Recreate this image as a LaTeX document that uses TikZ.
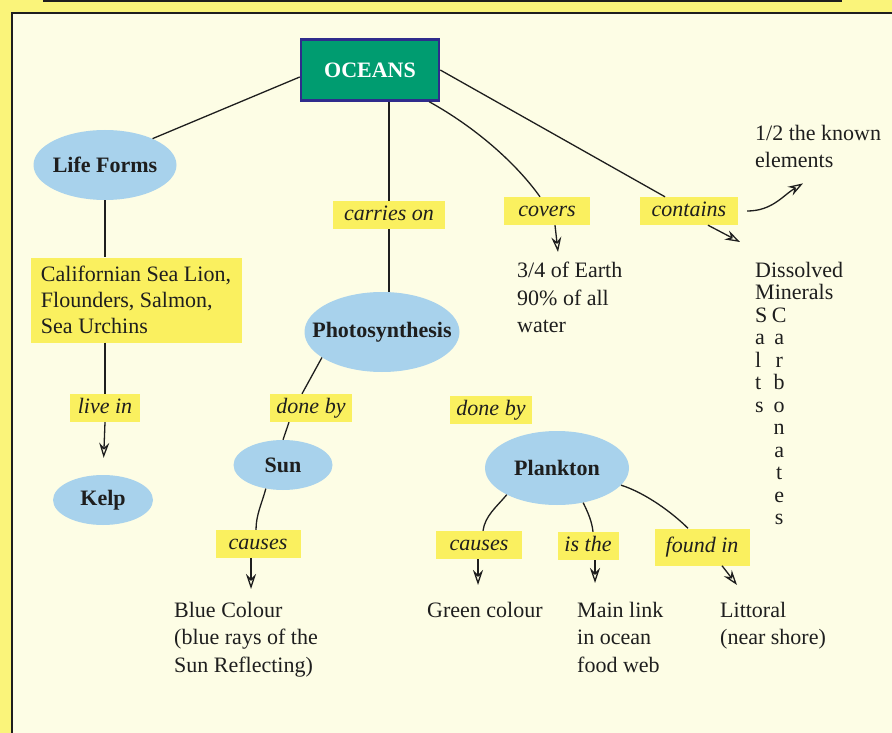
\documentclass[tikz,border=0pt]{standalone}
\usepackage{fontspec}
\setmainfont{Liberation Serif}
\usetikzlibrary{shapes.geometric, arrows.meta, positioning}

\definecolor{pageyellow}{RGB}{250,244,122}
\definecolor{panelcream}{RGB}{253,253,229}
\definecolor{markyellow}{RGB}{250,240,95}
\definecolor{conceptblue}{RGB}{168,210,236}
\definecolor{oceangreen}{RGB}{0,156,112}
\definecolor{oceanedge}{RGB}{48,44,140}
\definecolor{inkdark}{RGB}{30,30,30}

\newcommand{\mapfont}{\fontsize{22}{27}\selectfont}
\newcommand{\colpair}[2]{\makebox[18pt][l]{#1}\makebox[12pt]{#2}}

\begin{document}
\begin{tikzpicture}[
  x=1pt, y=-1pt,
  concept/.style={ellipse, fill=conceptblue, inner sep=0pt, font=\mapfont\bfseries, text=inkdark},
  linkword/.style={rectangle, fill=markyellow, inner xsep=6pt, inner ysep=4pt, text height=15pt, text depth=5pt, font=\mapfont\itshape, text=inkdark},
  note/.style={anchor=north west, align=left, inner sep=0pt, font=\fontsize{22}{27.5}\selectfont, text=inkdark},
  link/.style={draw=inkdark, line width=1.3pt},
  arrow/.style={link, -{Stealth[open, length=15pt, width=10pt, inset=5pt]}}
]

% page and frame
\useasboundingbox (0,0) rectangle (892,733);
\fill[pageyellow] (0,0) rectangle (892,733);
\draw[line width=1.6pt, draw=inkdark, fill=panelcream] (12,13) rectangle (905,750);
\draw[line width=2pt, inkdark] (43,1) -- (842,1);

% main topic
\node[rectangle, fill=oceangreen, draw=oceanedge, line width=2.5pt, minimum width=138pt, minimum height=61pt, font=\mapfont\bfseries, text=white] (oceans) at (370,70) {OCEANS};

% life forms branch
\node[concept, inner xsep=-5pt, minimum width=143pt, minimum height=70pt] (lifeforms) at (105,165) {Life Forms};
\node[rectangle, fill=markyellow, align=left, inner xsep=0pt, minimum width=211pt, minimum height=85pt, font=\fontsize{22}{26}\selectfont, text=inkdark] (sealife) at (136,300) {Californian Sea Lion,\\Flounders, Salmon,\\Sea Urchins};
\node[linkword, minimum width=70pt] (livein) at (105,408) {live in};
\node[concept, minimum width=100pt, minimum height=50pt] (kelp) at (103,500) {Kelp};

% photosynthesis branch
\node[linkword, minimum width=112pt] (carries) at (389,215) {carries on};
\node[concept, inner xsep=-17pt, minimum width=155pt, minimum height=80pt] (photo) at (382,332) {Photosynthesis};
\node[linkword, minimum width=82pt] (doneby1) at (311,408) {done by};
\node[concept, minimum width=99pt, minimum height=50pt] (sun) at (283,465) {Sun};
\node[linkword, minimum width=85pt] (causes1) at (258,544) {causes};
\node[note] (bluecolour) at (174,602) {Blue Colour\\(blue rays of the\\Sun Reflecting)};

% plankton branch
\node[linkword, minimum width=80pt] (doneby2) at (491,410) {done by};
\node[concept, inner xsep=-2pt, minimum width=144pt, minimum height=74pt] (plankton) at (557,468) {Plankton};
\node[linkword, minimum width=86pt] (causes2) at (479,545) {causes};
\node[linkword, minimum width=61pt] (isthe) at (588,546) {is the};
\node[linkword, minimum width=95pt, minimum height=37pt] (foundin) at (702,547) {found in};
\node[note] (green) at (427,602) {Green colour};
\node[note] (mainlink) at (577,602) {Main link\\in ocean\\food web};
\node[note] (littoral) at (720,602) {Littoral\\(near shore)};

% covers and contains
\node[linkword, minimum width=86pt] (covers) at (547,211) {covers};
\node[linkword, minimum width=98pt] (contains) at (689,211) {contains};
\node[note] (earth) at (517,262) {3/4 of Earth\\90\% of all\\water};
\node[note] (half) at (755,125) {1/2 the known\\elements};
\node[note, font=\fontsize{22}{22.5}\selectfont] (minerals) at (755,262) {Dissolved\\Minerals\\\colpair{S}{C}\\\colpair{a}{a}\\\colpair{l}{r}\\\colpair{t}{b}\\\colpair{s}{o}\\\colpair{}{n}\\\colpair{}{a}\\\colpair{}{t}\\\colpair{}{e}\\\colpair{}{s}};

% connectors
\draw[link] ([yshift=-7pt]oceans.west) -- (lifeforms.29);
\draw[link] (lifeforms.south) -- (lifeforms.south |- sealife.north);
\draw[link] (livein |- sealife.south) -- (livein.north);
\draw[arrow, shorten >=17pt] (livein.south) -- (kelp.north);

\draw[link] (carries.north |- oceans.south) -- (carries.north);
\draw[link] (carries.south) -- (carries.south |- photo.north);
\draw[link] (photo.203) -- ([xshift=-9pt]doneby1.north);
\draw[link] ([xshift=-22pt]doneby1.south) -- (sun.north);
\draw[link] (sun.234) .. controls +(-4,15) and +(0,-15) .. ([xshift=-2pt]causes1.north);
\draw[arrow, shorten >=13pt] ([xshift=-7pt]causes1.south) -- ([xshift=-7pt]causes1.south |- bluecolour.north);

\draw[link] (plankton.208) .. controls +(-10,12) and +(2,-15) .. ([xshift=4pt]causes2.north);
\draw[link] (plankton.307) .. controls +(5,10) and +(-1,-10) .. ([xshift=5pt]isthe.north);
\draw[link] (plankton.345) .. controls +(25,8) and +(-15,-15) .. ([xshift=-14pt]foundin.north);
\draw[arrow, shorten >=17pt] ([xshift=-1pt]causes2.south) -- ([xshift=-1pt]causes2.south |- green.north);
\draw[arrow, shorten >=19pt] ([xshift=7pt]isthe.south) -- ([xshift=7pt]isthe.south |- mainlink.north);
\draw[arrow] ([xshift=20pt]foundin.south) -- ([shift={(17,-17)}]littoral.north west);

\draw[link] ([xshift=-11pt]oceans.south east) .. controls +(45,25) and +(-25,-35) .. ([xshift=-7pt]covers.north);
\draw[arrow] ([xshift=8pt]covers.south) -- ([shift={(41,-10)}]earth.north west);
\draw[link] (oceans.east) -- ([xshift=-24pt]contains.north);
\draw[arrow] ([xshift=9pt]contains.east) .. controls +(25,0) and +(-20,12) .. ([shift={(48,15)}]half.south west);
\draw[arrow] ([xshift=19pt]contains.south) -- ([shift={(-15,-20)}]minerals.north west);

\end{tikzpicture}
\end{document}
